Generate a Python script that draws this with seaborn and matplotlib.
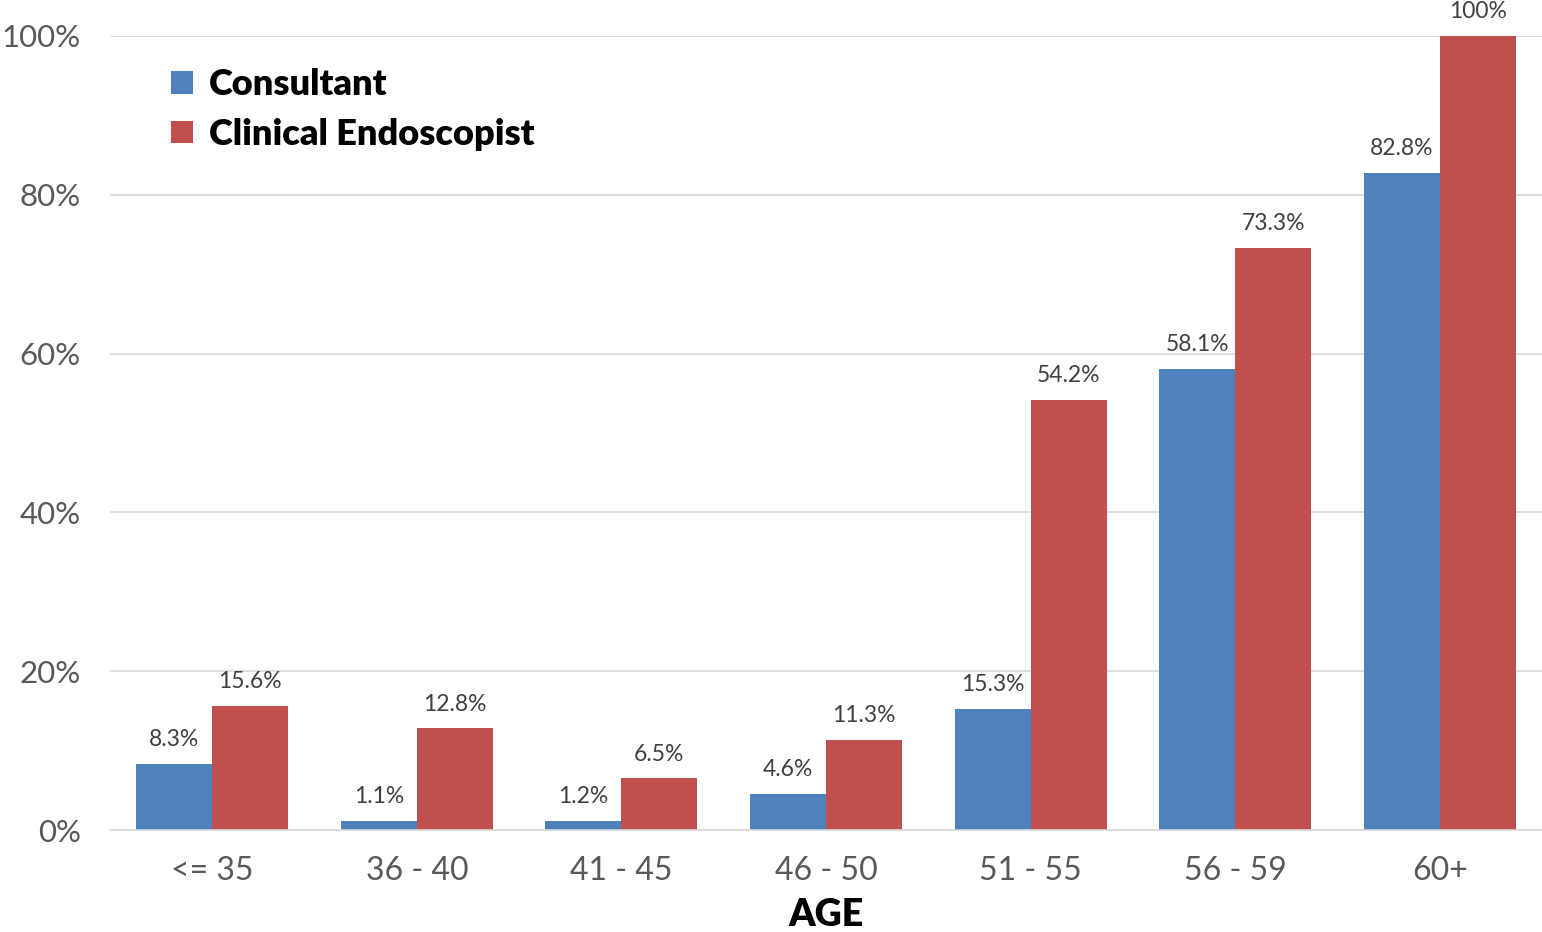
import pandas as pd
import matplotlib.pyplot as plt
import seaborn as sns
from matplotlib.ticker import FuncFormatter

# values
age_groups = ['<= 35', '36 - 40', '41 - 45', '46 - 50', '51 - 55', '56 - 59', '60+']
consultant = [8.3, 1.1, 1.2, 4.6, 15.3, 58.1, 82.8]
clinical_endoscopist = [15.6, 12.8, 6.5, 11.3, 54.2, 73.3, 100.0]
series_names = ['Consultant', 'Clinical Endoscopist']

df = pd.DataFrame({
    'Age': age_groups * 2,
    'Group': [series_names[0]] * len(age_groups) + [series_names[1]] * len(age_groups),
    'Value': consultant + clinical_endoscopist,
})

sns.set_style('white')
plt.rcParams['font.family'] = ['Lato', 'DejaVu Sans']

fig = plt.figure(figsize=(15.42, 9.32), dpi=100)
ax = fig.add_axes([0.0713, 0.1094, 0.9287, 0.852])

palette = {'Consultant': '#4F81BD', 'Clinical Endoscopist': '#C0504D'}
sns.barplot(data=df, x='Age', y='Value', hue='Group', hue_order=series_names,
            order=age_groups, palette=palette, width=0.743, gap=0,
            saturation=1, ax=ax, linewidth=0)

for cont in ax.containers:
    labels = ['100%' if b.get_height() == 100 else f'{b.get_height():.1f}%' for b in cont]
    ax.bar_label(cont, labels=labels, padding=10, fontsize=16.5, color='#404040')

ax.set_ylim(0, 100)
ax.set_xlim(-0.5, 6.5)
ax.set_yticks([0, 20, 40, 60, 80, 100])
ax.yaxis.set_major_formatter(FuncFormatter(lambda v, p: f'{v:.0f}%'))
ax.grid(axis='y', color='#d9d9d9', linewidth=1.2)
ax.set_axisbelow(True)
ax.tick_params(axis='y', length=0, pad=21, labelsize=22.5, labelcolor='#595959')
ax.tick_params(axis='x', length=0, pad=19, labelsize=23, labelcolor='#595959')
for s in ['top', 'right', 'left']:
    ax.spines[s].set_visible(False)
ax.spines['bottom'].set_color('#d9d9d9')
ax.spines['bottom'].set_linewidth(1.2)

ax.set_ylabel('')
ax.set_xlabel('AGE', fontsize=27, fontweight='heavy', color='black', labelpad=8)

leg = ax.legend(loc='upper left', bbox_to_anchor=(0.02, 1.0), frameon=False,
                handlelength=0.6, handleheight=0.6, handletextpad=0.45,
                labelspacing=0.45, prop={'size': 26, 'weight': 'heavy'})
for t in leg.get_texts():
    t.set_color('black')

fig.savefig('out.png', dpi=100)
